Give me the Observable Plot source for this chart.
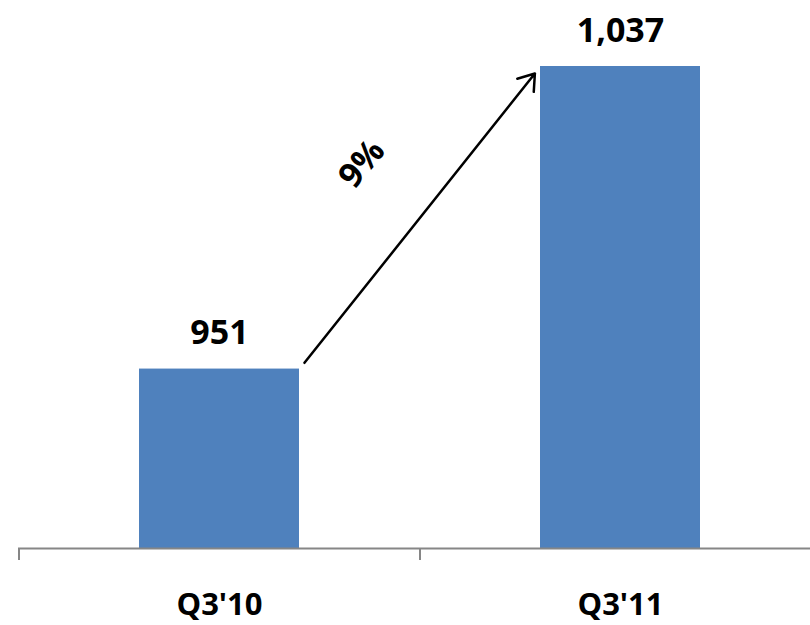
<!DOCTYPE html>
<html><head><meta charset="utf-8">
<script src="https://cdn.jsdelivr.net/npm/d3@7"></script>
<script src="https://cdn.jsdelivr.net/npm/@observablehq/plot@0.6"></script>
<style>body{margin:0;background:#fff;overflow:hidden}</style>
</head><body><div id="chart"></div>
<script>
const categories = ["Q3'10", "Q3'11"];
const values = [951, 1037];
const valueLabels = ["951", "1,037"];
const growthLabel = "9%";
const yBase = 900;

const data = categories.map((c, i) => ({cat: c, value: values[i], label: valueLabels[i]}));
const arrowData = [{from: categories[0], to: categories[1], v1: values[0], v2: values[1], label: growthLabel}];

const font = "'Open Sans', sans-serif";

function shift(fn) {
  return (index, scales, vals, dims, ctx, next) => next(index, scales, fn(vals, scales), dims, ctx);
}

const plot = Plot.plot({
  width: 810, height: 625,
  marginLeft: 18, marginRight: 0, marginTop: 66, marginBottom: 77,
  x: {domain: categories, range: [18, 821], paddingInner: 0.6, paddingOuter: 0.3, axis: null, label: null},
  y: {domain: [yBase, 1037], range: [548, 66], axis: null},
  style: {fontFamily: font, overflow: "visible", background: "#fff"},
  marks: [
    Plot.barY(data, {x: "cat", y1: yBase, y2: "value", fill: "#4F81BD"}),
    Plot.ruleY([yBase], {stroke: "#868686", strokeWidth: 2}),
    Plot.ruleX(data, {
      x: "cat", y1: yBase, y2: yBase, insetBottom: -12, stroke: "#868686", strokeWidth: 2,
      render: shift((v, s) => ({...v, x: v.x.map(x => x - s.x.step() / 2)}))
    }),
    Plot.axisX({tickSize: 0, tickPadding: 44, fontSize: 31, fontWeight: 700, label: null, fill: "#000"}),
    Plot.text(data, {x: "cat", y: "value", text: "label", dy: -25, lineAnchor: "bottom",
      fontSize: 34, fontWeight: 700, fill: "#000"}),
    Plot.arrow(arrowData, {
      x1: "from", y1: "v1", x2: "to", y2: "v2", stroke: "#000", strokeWidth: 2.5,
      headLength: 11, headAngle: 70, insetStart: 8, insetEnd: 9,
      render: shift((v, s) => ({...v,
        x1: v.x1.map(x => x + s.x.bandwidth() / 2),
        x2: v.x2.map(x => x - s.x.bandwidth() / 2)}))
    }),
    Plot.text(arrowData, {
      x: "from", y: d => (d.v1 + d.v2) / 2, text: "label", rotate: -50,
      dx: -58, dy: -54, fontSize: 34, fontWeight: 700, fill: "#000",
      render: shift((v, s) => ({...v, x: v.x.map(x => x + s.x.step() / 2)}))
    })
  ]
});
document.getElementById("chart").appendChild(plot);
</script>
</body></html>
